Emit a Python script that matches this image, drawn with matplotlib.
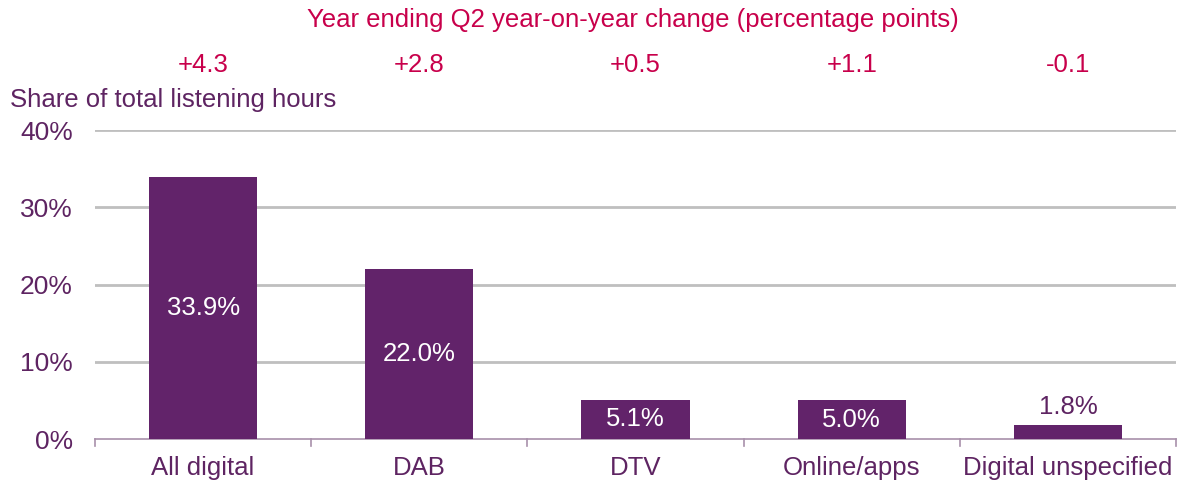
import matplotlib
matplotlib.use("Agg")
import matplotlib.pyplot as plt

categories = ["All digital", "DAB", "DTV", "Online/apps", "Digital unspecified"]
shares = [33.9, 22.0, 5.1, 5.0, 1.8]
changes = ["+4.3", "+2.8", "+0.5", "+1.1", "-0.1"]
yticks = [0, 10, 20, 30, 40]

plt.rcParams['font.family'] = ['Liberation Sans', 'DejaVu Sans']
purple = "#62236A"
textc = "#5E2462"
red = "#C8004B"
grid = "#BFBFBF"
fs = 18.5

fig = plt.figure(figsize=(11.78, 4.86), dpi=100)
ax = fig.add_axes([95/1178, 1-439/486, (1176-95)/1178, (439-130)/486])
x = list(range(len(categories)))
ax.bar(x, shares, width=0.5, color=purple, zorder=3)
ax.set_xlim(-0.5, len(categories)-0.5)
ax.set_ylim(0, 40)
ax.set_yticks(yticks)
ax.set_yticklabels([f"{t}%" for t in yticks], fontsize=19, color=textc)
for t in yticks[1:]:
    ax.axhline(t, color=grid, lw=2, zorder=1)
ax.tick_params(axis='y', length=0, pad=16)
ax.set_xticks(x)
ax.set_xticklabels(categories, fontsize=fs, color=textc)
ax.tick_params(axis='x', length=0, pad=12)
for s in ["top", "right", "left"]:
    ax.spines[s].set_visible(False)
ax.spines["bottom"].set_color("#A890AA")
ax.spines["bottom"].set_linewidth(1.2)
for b in [i - 0.5 for i in range(len(categories)+1)]:
    ax.plot([b, b], [0, -0.022], transform=ax.get_xaxis_transform(), color="#A890AA", lw=1.2, clip_on=False)

for i, v in enumerate(shares):
    if v > 4:
        ax.text(i, v/2, f"{v:.1f}%", ha="center", va="center", color="white", fontsize=fs, zorder=4)
    else:
        ax.text(i, v + 0.8, f"{v:.1f}%", ha="center", va="bottom", color=textc, fontsize=fs, zorder=4)

for i, c in enumerate(changes):
    ax.text(i, 1 + 65/309, c, transform=ax.get_xaxis_transform(), ha="center", va="center", color=red, fontsize=fs)

fig.text(633/1178, 1-20/486, "Year ending Q2 year-on-year change (percentage points)", ha="center", va="center", color=red, fontsize=fs)
fig.text(10/1178, 1-100/486, "Share of total listening hours", ha="left", va="center", color=textc, fontsize=fs)

fig.savefig("out.png", dpi=100)
